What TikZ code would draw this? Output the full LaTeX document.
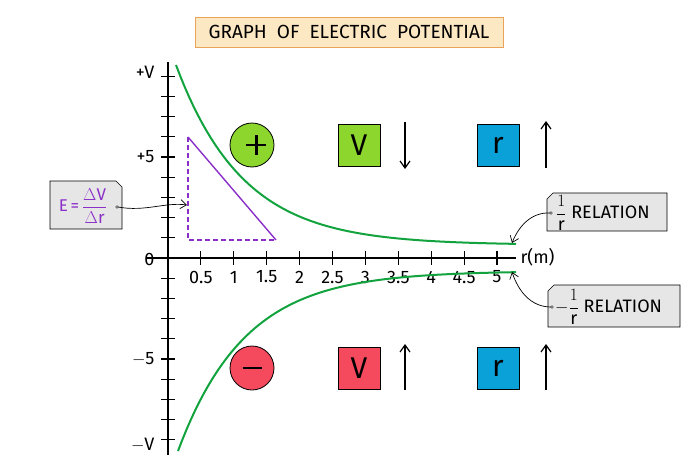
\documentclass[tikz,border=0pt]{standalone}
\usepackage{fontspec}
\setmainfont{Fira Sans}
\usetikzlibrary{arrows.meta}
\definecolor{cgreen}{HTML}{12A33E}
\definecolor{lgreen}{HTML}{8CD62E}
\definecolor{cred}{HTML}{F54A5E}
\definecolor{cblue}{HTML}{0AA0D8}
\definecolor{cpurp}{HTML}{8B2FC9}
\definecolor{tbox}{HTML}{FCE8C3}
\definecolor{tbord}{HTML}{E8A25A}
\definecolor{gbox}{HTML}{E6E6E6}
\begin{document}
\begin{tikzpicture}[x=1pt,y=-1pt,
  curve/.style={cgreen,line width=2pt},
  sq/.style={draw=black,line width=0.8pt,minimum size=42pt,inner sep=0pt,font=\fontsize{30}{30}\selectfont},
  bigarr/.style={-{Straight Barb[length=7pt,width=10pt]},line width=1.2pt},
  lab/.style={font=\fontsize{18}{18}\selectfont},
  btxt/.style={font=\fontsize{18}{18}\selectfont},
  callout/.style={->,>={Straight Barb[length=6pt,width=9pt]},line width=0.7pt}]
\useasboundingbox (0,0) rectangle (694,463);
% title
\node[draw=tbord,fill=tbox,line width=1pt,minimum width=308pt,minimum height=30pt,inner sep=2pt,font=\fontsize{19}{19}\selectfont] (title) at (349,32) {GRAPH\ \ OF\ \ ELECTRIC\ \ POTENTIAL};
% axes
\draw[line width=1.1pt] (168,62) -- (168,455);
\draw[line width=1.1pt] (146,258) -- (516,258);
\foreach \i in {1,...,9}{\draw[line width=1.1pt] (161,258-\i*20.2) -- (175,258-\i*20.2); \draw[line width=1.1pt] (161,258+\i*20.2) -- (175,258+\i*20.2);}
\foreach \i/\l in {1/0.5,2/1,3/1.5,4/2,5/2.5,6/3,7/3.5,8/4,9/4.5,10/5}{
  \draw[line width=1.1pt] (168+\i*32.9,251) -- (168+\i*32.9,265);
  \node[lab] (t\i) at (168+\i*32.9,277) {\l};}
\node[lab,anchor=east] (yv) at (158,72) {+V};
\node[lab,anchor=east] (y5) at (158,157) {+5};
\node[lab,anchor=east] (y0) at (158,259) {0};
\node[lab,anchor=east] (ym5) at (158,359) {$-$5};
\node[lab,anchor=east] (ymv) at (158,445) {$-$V};
\node[lab,anchor=west] (rm) at (517,257) {r(m)};
% curves
\draw[curve] plot[domain=176:516,samples=80] (\x,{245-180*exp(-(\x-176)/67)});
\draw[curve] plot[domain=178:516,samples=80] (\x,{271+180*exp(-(\x-178)/67)});
% tangent
\draw[cpurp,line width=1.4pt] (188,137) -- (276,240);
\draw[cpurp,line width=1.4pt,dash pattern=on 5pt off 3pt] (188,137) -- (188,240) -- (276,240);
\coordinate (tri) at (187,205);
% E box
\draw[fill=gbox,line width=0.6pt] (50,181) -- (116,181) -- (122,187) -- (122,229) -- (50,229) -- cycle;
\node[cpurp,font=\fontsize{17}{17}\selectfont] (E) at (83,206) {E\,=\,$\displaystyle\frac{\Delta\mathrm{V}}{\Delta\mathrm{r}}$};
\draw[fill=white] (117,207) circle (1.4pt);
\draw[callout] (118,207) .. controls (145,212) and (165,202) .. (tri);
% circles
\node[circle,draw,line width=0.8pt,fill=lgreen,minimum size=44pt,inner sep=0pt] (plus) at (252,145) {\rule[4pt]{20pt}{2.4pt}\hspace{-11.2pt}\rule[-5pt]{2.4pt}{20pt}\hspace{8.8pt}};
\node[circle,draw,line width=0.8pt,fill=cred,minimum size=44pt,inner sep=0pt] (minus) at (252,368) {\rule{19pt}{2.4pt}};
\node[sq,fill=lgreen] (v1) at (359,145) {V};
\node[sq,fill=cred] (v2) at (359,368) {V};
\node[sq,fill=cblue] (r1) at (498,145) {r};
\node[sq,fill=cblue] (r2) at (498,368) {r};
\coordinate (a1s) at (405,122); \coordinate (a1e) at (405,169);
\coordinate (a2s) at (405,390); \coordinate (a2e) at (405,344);
\coordinate (a3s) at (546,168); \coordinate (a3e) at (546,121);
\coordinate (a4s) at (546,390); \coordinate (a4e) at (546,344);
\draw[bigarr] (a1s) -- (a1e);
\draw[bigarr] (a2s) -- (a2e);
\draw[bigarr] (a3s) -- (a3e);
\draw[bigarr] (a4s) -- (a4e);
% right labels
\draw[fill=gbox,line width=0.6pt] (553,193) -- (667,193) -- (667,231) -- (547,231) -- (547,199) -- cycle;
\node[btxt,anchor=west,inner sep=1pt] (l1) at (555,213) {$\displaystyle\frac{1}{\mathrm{r}}$ RELATION};
\draw[fill=gbox,line width=0.6pt] (554,285) -- (680,285) -- (680,327) -- (548,327) -- (548,291) -- cycle;
\node[btxt,anchor=west,inner sep=1pt] (l2) at (554,307) {$\displaystyle-\frac{1}{\mathrm{r}}$ RELATION};
\coordinate (p1) at (512,243); \coordinate (p2) at (512,272);
\draw[fill=white] (551,213) circle (1.4pt);
\draw[fill=white] (552,307) circle (1.4pt);
\draw[callout] (550,213) .. controls (530,212) and (518,228) .. (p1);
\draw[callout] (551,307) .. controls (530,307) and (518,290) .. (p2);
\end{tikzpicture}
\end{document}
